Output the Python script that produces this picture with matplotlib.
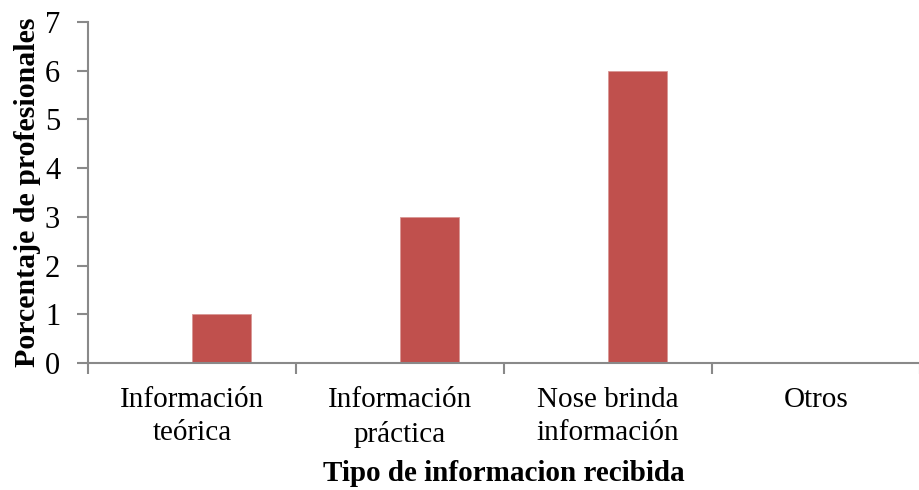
import matplotlib
matplotlib.use("Agg")
import matplotlib.pyplot as plt
import numpy as np

categorias = ["Información\nteórica", "Información\npráctica", "Nose brinda\ninformación", "Otros"]
valores = [1, 3, 6, 0]
yticks = [0, 1, 2, 3, 4, 5, 6, 7]

plt.rcParams["font.family"] = ["Liberation Serif", "DejaVu Serif"]
gris = "#898989"

fig = plt.figure(figsize=(9.2, 4.9), dpi=100)
ax = fig.add_axes([88 / 920, 1 - 363 / 490, 832 / 920, 341 / 490])

x = np.arange(len(categorias))
ax.bar(x, valores, width=0.284, align="edge", color="#C0504D", edgecolor="#D99795", linewidth=0.6)

ax.set_xlim(-0.5, -0.5 + 832 / 209.5)
ax.set_ylim(0, 7)
ax.set_yticks(yticks)
ax.set_xticks(x)
ax.set_xticklabels(categorias, fontsize=21, multialignment="center", linespacing=1.38)
ax.set_xticks(np.arange(len(categorias) + 1) - 0.5, minor=True)

for s in ["top", "right"]:
    ax.spines[s].set_visible(False)
for s in ["left", "bottom"]:
    ax.spines[s].set_color(gris)
    ax.spines[s].set_linewidth(1.5)

ax.tick_params(axis="x", which="major", length=0, pad=17)
ax.tick_params(axis="x", which="minor", length=8, width=1.5, color=gris)
ax.tick_params(axis="y", length=8, width=1.5, color=gris, labelsize=22, pad=12)

ax.set_ylabel("Porcentaje de profesionales", fontsize=21.5, fontweight="bold", labelpad=3)
ax.set_xlabel("Tipo de informacion recibida", fontsize=21, fontweight="bold", labelpad=9)

fig.savefig("out.png", dpi=100)
